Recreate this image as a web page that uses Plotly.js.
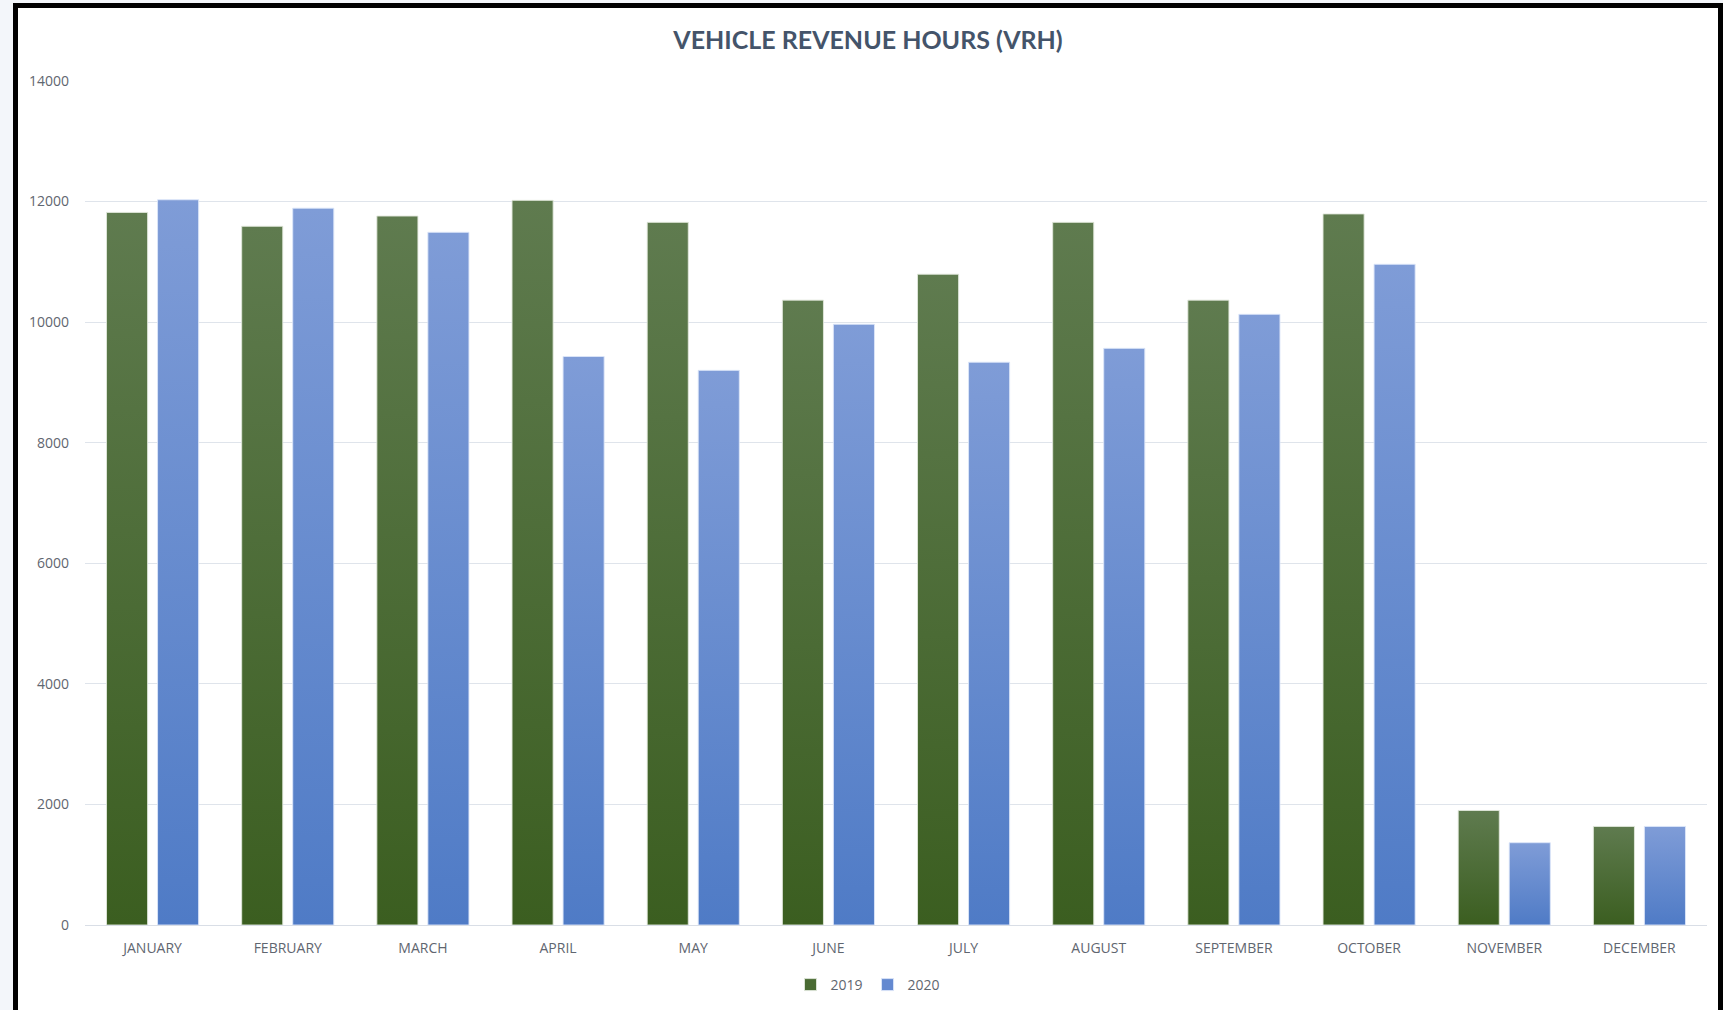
<!DOCTYPE html>
<html>
<head>
<meta charset="utf-8">
<script src="https://cdn.plot.ly/plotly-3.0.1.min.js"></script>
<style>
  html, body { margin: 0; padding: 0; background: #f3f6fa; }
  #chart { width: 1723px; height: 1010px; }
</style>
</head>
<body>
<div id="chart"></div>
<script>
const months = ["JANUARY","FEBRUARY","MARCH","APRIL","MAY","JUNE","JULY","AUGUST","SEPTEMBER","OCTOBER","NOVEMBER","DECEMBER"];
const vrh2019 = [11820, 11590, 11760, 12020, 11655, 10365, 10795, 11655, 10365, 11795, 1900, 1635];
const vrh2020 = [12030, 11890, 11490, 9430, 9200, 9965, 9335, 9565, 10130, 10960, 1365, 1635];
const seriesNames = ["2019", "2020"];
const yTicks = [0, 2000, 4000, 6000, 8000, 10000, 12000, 14000];

const W = 1723, H = 1010;
const L = 85, R = 16, T = 81, B = 85;
const pw = W - L - R, ph = H - T - B;
const px = x => (x - L) / pw;
const py = y => (H - B - y) / ph;

const traces = [
  { type: "bar", name: seriesNames[0], x: months, y: vrh2019,
    marker: { color: "#4a6b33", line: { color: "rgba(225,232,220,0.9)", width: 1 } } },
  { type: "bar", name: seriesNames[1], x: months, y: vrh2020,
    marker: { color: "#6489d0", line: { color: "rgba(220,230,248,0.9)", width: 1 } } }
];

const layout = {
  width: W, height: H,
  margin: { l: L, r: R, t: T, b: B, pad: 0, autoexpand: false },
  paper_bgcolor: "#f3f6fa",
  plot_bgcolor: "rgba(0,0,0,0)",
  bargap: 0.245,
  bargroupgap: 0.195,
  showlegend: true,
  title: {
    text: "VEHICLE REVENUE HOURS (VRH)",
    font: { family: "Lato, 'Open Sans', sans-serif", size: 25, color: "#44546a", weight: 700 },
    x: 868 / W, xref: "container", xanchor: "center",
    y: 1 - 40 / H, yref: "container", yanchor: "middle"
  },
  xaxis: {
    type: "category",
    tickfont: { family: "'Open Sans', sans-serif", size: 14, color: "#5f6670" },
    showgrid: false, showline: true, linecolor: "#d9dee6", linewidth: 1,
    ticks: "", ticklabelstandoff: 10, fixedrange: true, automargin: false
  },
  yaxis: {
    range: [0, 14000],
    tickvals: yTicks,
    tickformat: "d",
    tickfont: { family: "'Open Sans', sans-serif", size: 14, color: "#5f6670" },
    showgrid: true, gridcolor: "#dfe4eb", gridwidth: 1,
    zeroline: false, showline: false, ticks: "",
    ticklabelstandoff: 15, fixedrange: true, automargin: false
  },
  legend: {
    orientation: "h",
    x: 868 / W, xref: "container", xanchor: "center",
    y: 1 - 985 / H, yref: "container", yanchor: "middle",
    font: { family: "'Open Sans', sans-serif", size: 14, color: "#5f6670" },
    itemwidth: 30, bgcolor: "rgba(0,0,0,0)"
  },
  shapes: [
    { type: "rect", xref: "paper", yref: "paper", layer: "below",
      x0: px(13), x1: px(1723), y0: py(1010), y1: py(3),
      fillcolor: "#000000", line: { width: 0 } },
    { type: "rect", xref: "paper", yref: "paper", layer: "below",
      x0: px(18), x1: px(1718), y0: py(1010), y1: py(8),
      fillcolor: "#ffffff", line: { width: 0 } }
  ]
};

Plotly.newPlot("chart", traces, layout, { displayModeBar: false, staticPlot: true }).then(gd => {
  const svg = gd.querySelector("svg.main-svg");
  const NS = "http://www.w3.org/2000/svg";
  let defs = svg.querySelector("defs");
  if (!defs) { defs = document.createElementNS(NS, "defs"); svg.insertBefore(defs, svg.firstChild); }
  function grad(id, top, bottom) {
    const g = document.createElementNS(NS, "linearGradient");
    g.setAttribute("id", id);
    g.setAttribute("x1", "0"); g.setAttribute("y1", "0");
    g.setAttribute("x2", "0"); g.setAttribute("y2", "1");
    const s1 = document.createElementNS(NS, "stop");
    s1.setAttribute("offset", "0"); s1.setAttribute("stop-color", top);
    const s2 = document.createElementNS(NS, "stop");
    s2.setAttribute("offset", "1"); s2.setAttribute("stop-color", bottom);
    g.appendChild(s1); g.appendChild(s2); defs.appendChild(g);
  }
  grad("gGreen", "#5f7b4f", "#3b5e20");
  grad("gBlue", "#7f9cd7", "#4f7bc6");
  const tr = gd.querySelectorAll(".barlayer .trace");
  const ids = ["gGreen", "gBlue"];
  tr.forEach((t, i) => {
    t.querySelectorAll(".point path").forEach(p => { p.style.fill = "url(#" + ids[i] + ")"; });
  });
});
</script>
</body>
</html>
